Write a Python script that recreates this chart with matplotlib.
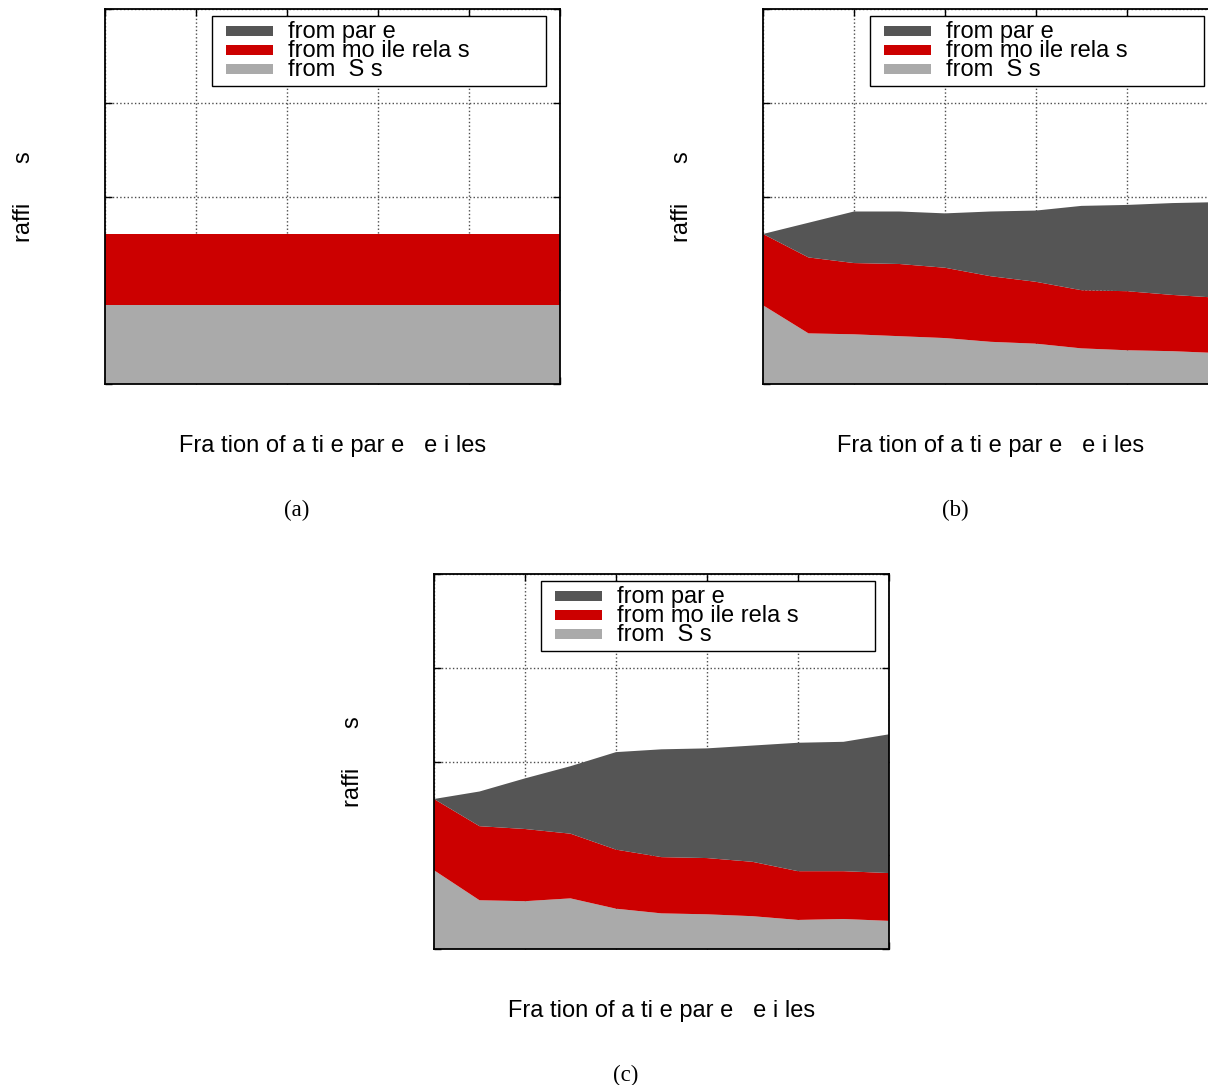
import matplotlib
matplotlib.use("Agg")
import matplotlib.pyplot as plt
from matplotlib.patches import Patch, Rectangle
from matplotlib.legend_handler import HandlerPatch

# Data; y axis runs 0..4 with no visible tick labels
frac = [0.0, 0.1, 0.2, 0.3, 0.4, 0.5, 0.6, 0.7, 0.8, 0.9, 1.0]

rsu_a = [0.84, 0.84, 0.84, 0.84, 0.84, 0.84, 0.84, 0.84, 0.84, 0.84, 0.84]
mobile_a = [0.76, 0.76, 0.76, 0.76, 0.76, 0.76, 0.76, 0.76, 0.76, 0.76, 0.76]
parked_a = [0.0, 0.0, 0.0, 0.0, 0.0, 0.0, 0.0, 0.0, 0.0, 0.0, 0.0]

rsu_b = [0.84, 0.54, 0.53, 0.51, 0.49, 0.45, 0.43, 0.38, 0.36, 0.35, 0.33]
mobile_b = [0.76, 0.81, 0.76, 0.77, 0.75, 0.70, 0.66, 0.62, 0.63, 0.60, 0.59]
parked_b = [0.00, 0.37, 0.55, 0.56, 0.58, 0.69, 0.76, 0.90, 0.92, 0.98, 1.02]

rsu_c = [0.84, 0.52, 0.51, 0.54, 0.43, 0.38, 0.37, 0.35, 0.31, 0.32, 0.30]
mobile_c = [0.76, 0.79, 0.77, 0.69, 0.63, 0.60, 0.60, 0.58, 0.52, 0.51, 0.51]
parked_c = [0.00, 0.37, 0.54, 0.72, 1.04, 1.15, 1.17, 1.24, 1.37, 1.38, 1.48]

legend_labels = ["from par e", "from mo ile rela s", "from  S s"]
xlabel = "Fra tion of a ti e par e   e i les"
ylabel = "raffi      s"
panel_tags = ["(a)", "(b)", "(c)"]

colors = {"parked": "#555555", "mobile": "#cc0000", "rsu": "#aaaaaa"}

W, H = 1208, 1085
fig = plt.figure(figsize=(W / 100, H / 100), dpi=100)
plt.rcParams["font.family"] = ["Liberation Sans", "DejaVu Sans"]


def px(x, y):
    return x / W, 1 - y / H


def swatch(legend, orig_handle, xdescent, ydescent, width, height, fontsize):
    # handle box units are points; indent the swatch a little
    gap = 6.5
    return Rectangle((-xdescent + gap, -ydescent + height / 2 - 4.8),
                     width - gap, 7.4)


def panel(left, top, rsu, mobile, parked, tag):
    aw, ah = 455, 375
    x0, y0 = px(left, top + ah)
    ax = fig.add_axes([x0, y0, aw / W, ah / H])
    ax.stackplot(frac, rsu, mobile, parked,
                 colors=[colors["rsu"], colors["mobile"], colors["parked"]],
                 linewidth=0, zorder=2)
    ax.set_xlim(0, 1)
    ax.set_ylim(0, 4)
    ax.set_xticks([0, 0.2, 0.4, 0.6, 0.8, 1.0])
    ax.set_yticks([0, 1, 2, 3, 4])
    ax.set_xticklabels([])
    ax.set_yticklabels([])
    ax.tick_params(direction="in", length=5, width=1, top=True, right=True)
    ax.set_axisbelow(True)
    ax.grid(True, linestyle=":", color="0.3", linewidth=1.0)
    for s in ax.spines.values():
        s.set_linewidth(1.3)
        s.set_zorder(5)

    handles = [Patch(facecolor=colors["parked"], linewidth=0),
               Patch(facecolor=colors["mobile"], linewidth=0),
               Patch(facecolor=colors["rsu"], linewidth=0)]
    leg = ax.legend(handles, legend_labels, loc="upper left",
                    bbox_to_anchor=(107 / aw, 0, 334 / aw, 1 - 7 / ah),
                    mode="expand", borderaxespad=0, fontsize=17,
                    handler_map={Patch: HandlerPatch(patch_func=swatch)},
                    handlelength=2.4, handleheight=0.7, handletextpad=0.62,
                    labelspacing=-0.12, borderpad=0.2, fancybox=False,
                    framealpha=1, edgecolor="black")
    leg.get_frame().set_linewidth(1.0)
    leg.set_zorder(6)

    # axis labels and sub-figure tag
    fig.text(*px(left + aw / 2, top + ah + 62), xlabel, ha="center",
             va="center", fontsize=17)
    fig.text(*px(left - 81, top + ah / 2), ylabel, ha="center",
             va="center", rotation=90, fontsize=17)
    fig.text(*px(left + 192, top + ah + 126), tag, ha="center", va="center",
             fontsize=16.5, family=["Liberation Serif", "DejaVu Serif"])
    return ax


panel(105, 9, rsu_a, mobile_a, parked_a, panel_tags[0])
panel(763, 9, rsu_b, mobile_b, parked_b, panel_tags[1])
panel(434, 574, rsu_c, mobile_c, parked_c, panel_tags[2])

fig.savefig("out.png", dpi=100)
